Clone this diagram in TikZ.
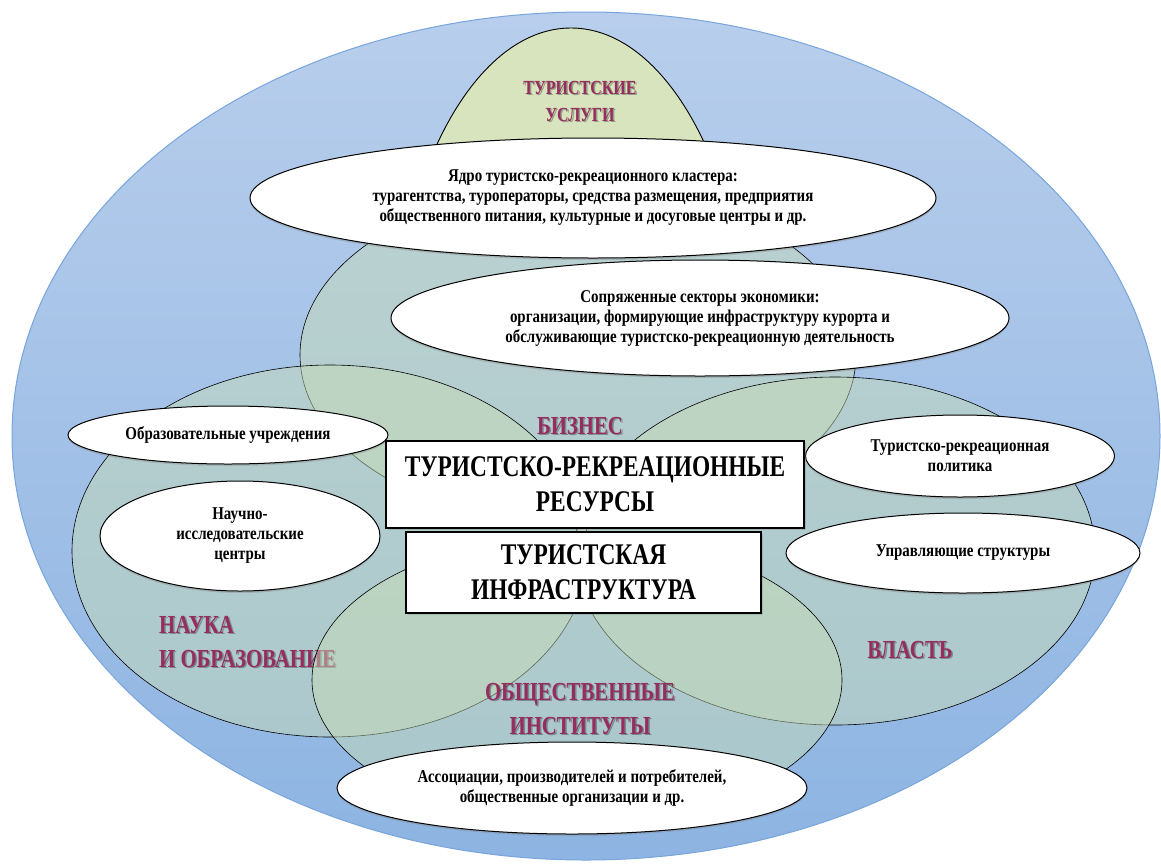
\documentclass[tikz,border=0pt]{standalone}
\usepackage{fontspec}
\setmainfont{Liberation Serif}
\newfontfamily\smallf[FakeStretch=0.83]{Liberation Serif}
\newfontfamily\boxf[FakeStretch=0.78]{Liberation Serif}
\newfontfamily\lblf[FakeStretch=0.8]{Liberation Serif}
\usetikzlibrary{shapes.geometric,shadows}
\definecolor{outertop}{RGB}{184,206,236}
\definecolor{outerbot}{RGB}{141,180,226}
\definecolor{outerline}{RGB}{120,165,220}
\definecolor{greenfill}{RGB}{215,228,189}
\definecolor{vennfill}{RGB}{200,220,180}
\definecolor{lblcol}{RGB}{150,45,95}
\begin{document}
\begin{tikzpicture}[x=1pt,y=-1pt,
  venn/.style={ellipse, draw=black, line width=0.6pt, fill=vennfill, fill opacity=0.47, inner sep=0pt},
  whiteell/.style={ellipse, draw=black, line width=1pt, fill=white, inner sep=0pt, align=center,
    font=\smallf\bfseries\fontsize{18}{20}\selectfont,
    drop shadow={opacity=0.35, shadow xshift=0pt, shadow yshift=-2pt}},
  boxnode/.style={rectangle, draw=black, line width=1.2pt, fill=white, inner sep=0pt, align=center,
    font=\boxf\bfseries\fontsize{30}{35}\selectfont,
    drop shadow={opacity=0.35, shadow xshift=1.5pt, shadow yshift=-1.5pt}},
  lbl/.style={inner sep=0pt, text=lblcol, font=\lblf\bfseries\fontsize{26}{34}\selectfont},
  lblsh/.style={lbl, text=black, text opacity=0.3}]
\useasboundingbox (0,0) rectangle (1161,865);
% outer field
\node[ellipse, minimum width=1148pt, minimum height=848pt, inner sep=0pt,
  top color=outertop, bottom color=outerbot, draw=outerline, line width=1pt] (outer) at (586,436) {};
% tourist services (top)
\begin{scope}
  \clip (0,0) rectangle (1161,200);
  \node[ellipse, draw=black, line width=0.9pt, fill=greenfill, inner sep=0pt,
    minimum width=360pt, minimum height=700pt] (uslugi) at (571,378) {};
\end{scope}
\node[lblsh, align=center, font=\lblf\bfseries\fontsize{20}{27}\selectfont] (uslugilblsh) at (581.5,102.5) {ТУРИСТСКИЕ\\УСЛУГИ};
\node[lbl, align=center, font=\lblf\bfseries\fontsize{20}{27}\selectfont] (uslugilbl) at (580,101) {ТУРИСТСКИЕ\\УСЛУГИ};
% venn ellipses
\node[venn, minimum width=556pt, minimum height=340pt] (biz) at (578,355) {};
\node[venn, minimum width=516pt, minimum height=372pt] (nauka) at (330,551) {};
\node[venn, minimum width=520pt, minimum height=348pt] (vlast) at (835,551) {};
\node[lblsh, align=left, anchor=west] (naukalblsh) at (160.5,643.5) {НАУКА\\И ОБРАЗОВАНИЕ};
\node[lbl, align=left, anchor=west] (naukalbl) at (159,642) {НАУКА\\И ОБРАЗОВАНИЕ};
\node[venn, minimum width=530pt, minimum height=290pt] (obsch) at (577,680) {};
% labels
\node[lblsh] (bizlblsh) at (581.5,427.5) {БИЗНЕС};
\node[lbl] (bizlbl) at (580,426) {БИЗНЕС};
\node[lblsh] (vlastlblsh) at (911.5,651.5) {ВЛАСТЬ};
\node[lbl] (vlastlbl) at (910,650) {ВЛАСТЬ};
\node[lblsh, align=center] (obschlblsh) at (581.5,710.5) {ОБЩЕСТВЕННЫЕ\\ИНСТИТУТЫ};
\node[lbl, align=center] (obschlbl) at (580,709) {ОБЩЕСТВЕННЫЕ\\ИНСТИТУТЫ};
% white ellipses
\node[whiteell, minimum width=686pt, minimum height=120pt] (core) at (593,198)
  {Ядро туристско-рекреационного кластера:\\турагентства, туроператоры, средства размещения, предприятия\\общественного питания, культурные и досуговые центры и др.};
\node[whiteell, minimum width=618pt, minimum height=116pt] (sopr) at (700,318)
  {Сопряженные секторы экономики:\\организации, формирующие инфраструктуру курорта и\\обслуживающие туристско-рекреационную деятельность};
\node[whiteell, minimum width=320pt, minimum height=58pt] (obraz) at (228,435)
  {Образовательные учреждения};
\node[whiteell, minimum width=280pt, minimum height=110pt] (nauch) at (240,536)
  {Научно-\\исследовательские\\центры};
\node[whiteell, minimum width=309pt, minimum height=82pt] (polit) at (960,456)
  {Туристско-рекреационная\\политика};
\node[whiteell, minimum width=354pt, minimum height=80pt] (upr) at (963,553)
  {Управляющие структуры};
\node[whiteell, minimum width=470pt, minimum height=92pt] (assoc) at (572,788)
  {Ассоциации, производителей и потребителей,\\общественные организации и др.};
% central boxes
\node[boxnode, minimum width=418pt, minimum height=87pt] (res) at (595,484.5)
  {ТУРИСТСКО-РЕКРЕАЦИОННЫЕ\\РЕСУРСЫ};
\node[boxnode, minimum width=355pt, minimum height=81pt] (infra) at (583.5,572.5)
  {ТУРИСТСКАЯ\\ИНФРАСТРУКТУРА};
\end{tikzpicture}
\end{document}
